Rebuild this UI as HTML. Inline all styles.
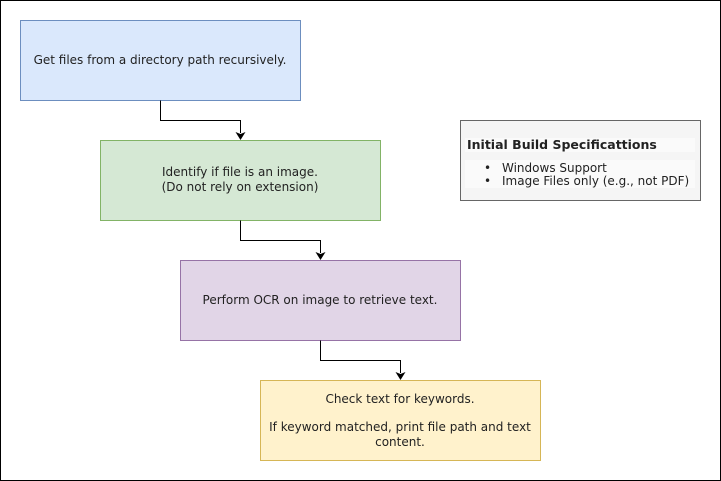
<!DOCTYPE html>
<html><head><style>
body{margin:0;width:721px;height:481px;background:#fff;font-family:"DejaVu Sans","Liberation Sans",sans-serif;}
svg{position:absolute;left:0;top:0}
</style></head><body>
<svg width="721" height="481" viewBox="0 0 721 481" font-family="DejaVu Sans, Liberation Sans, sans-serif" font-size="12">
<rect x="0.5" y="0.5" width="720" height="480" fill="#fff" stroke="#000"/>
<rect x="20.5" y="20.5" width="280" height="80" fill="#dae8fc" stroke="#6c8ebf"/>
<rect x="100.5" y="140.5" width="280" height="80" fill="#d5e8d4" stroke="#82b366"/>
<rect x="180.5" y="260.5" width="280" height="80" fill="#e1d5e7" stroke="#9673a6"/>
<rect x="260.5" y="380.5" width="280" height="80" fill="#fff2cc" stroke="#d6b656"/>
<rect x="460.5" y="120.5" width="240" height="80" fill="#f5f5f5" stroke="#666"/>
<g fill="none" stroke="#000">
<path d="M160.5 100.5V120.5H240.5V133"/>
<path d="M240.5 220.5V240.5H320.5V253"/>
<path d="M320.5 340.5V360.5H400.5V373"/>
</g>
<g fill="#000">
<path d="M235.5 132L240.5 140L245.5 132L240.5 134Z"/>
<path d="M315.5 252L320.5 260L325.5 252L320.5 254Z"/>
<path d="M395.5 372L400.5 380L405.5 372L400.5 374Z"/>
</g>
<g text-anchor="middle" fill="#222">
<text x="160" y="64">Get files from a directory path recursively.</text>
<text x="240" y="176">Identify if file is an image.</text>
<text x="240" y="191">(Do not rely on extension)</text>
<text x="320" y="304">Perform OCR on image to retrieve text.</text>
<text x="400" y="403">Check text for keywords.</text>
<text x="400" y="431">If keyword matched, print file path and text</text>
<text x="400" y="446">content.</text>
</g>
<rect x="465" y="138" width="230" height="14" fill="#fafafa"/>
<rect x="465" y="160" width="230" height="28" fill="#fafafa"/>
<text x="467" y="149" font-weight="bold" fill="#222" font-size="12.5">Initial Build Specificattions</text>
<g fill="#222">
<text x="484" y="172">•</text><text x="502" y="172">Windows Support</text>
<text x="484" y="185">•</text><text x="502" y="185">Image Files only (e.g., not PDF)</text>
</g>
</svg>
</body></html>
